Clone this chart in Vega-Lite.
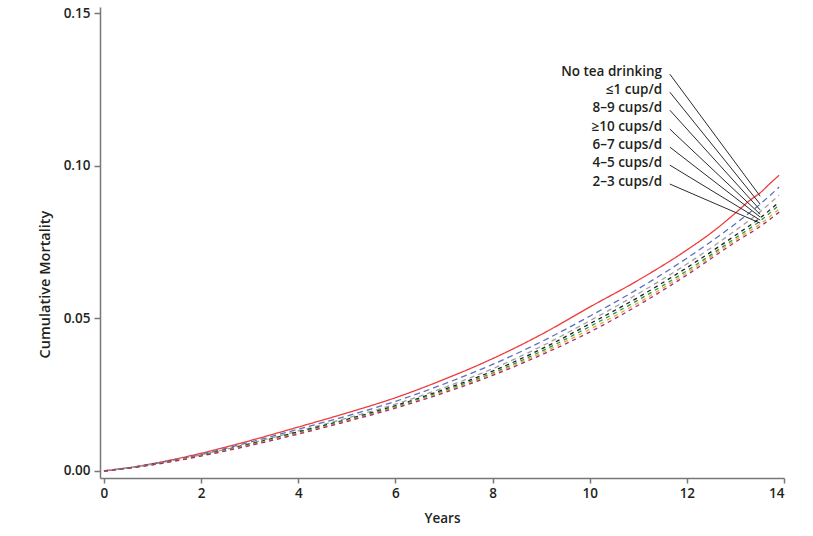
{
  "$schema": "https://vega.github.io/schema/vega-lite/v6.json",
  "width": 684,
  "height": 471,
  "autosize": "none",
  "padding": {"left": 100, "top": 7, "right": 29, "bottom": 58},
  "background": "white",
  "config": {
    "view": {"stroke": null},
    "font": "Open Sans",
    "axis": {
      "grid": false,
      "domainColor": "#777777",
      "domainWidth": 1.5,
      "tickColor": "#777777",
      "tickWidth": 1.5,
      "labelFont": "Open Sans",
      "labelFontWeight": 600,
      "labelFontSize": 13.5,
      "labelColor": "#231f20",
      "titleFont": "Open Sans",
      "titleFontWeight": 600,
      "titleFontSize": 13.5,
      "titleColor": "#231f20"
    }
  },
  "datasets": {
    "curves": [
      {"s": "No tea drinking", "t": 0, "v": 0},
      {"s": "No tea drinking", "t": 0.5, "v": 0.0010},
      {"s": "No tea drinking", "t": 1, "v": 0.0024},
      {"s": "No tea drinking", "t": 1.5, "v": 0.0040},
      {"s": "No tea drinking", "t": 2, "v": 0.0058},
      {"s": "No tea drinking", "t": 3, "v": 0.0099},
      {"s": "No tea drinking", "t": 4, "v": 0.0144},
      {"s": "No tea drinking", "t": 5, "v": 0.0190},
      {"s": "No tea drinking", "t": 6, "v": 0.0240},
      {"s": "No tea drinking", "t": 7, "v": 0.0300},
      {"s": "No tea drinking", "t": 8, "v": 0.0368},
      {"s": "No tea drinking", "t": 9, "v": 0.0447},
      {"s": "No tea drinking", "t": 10, "v": 0.0537},
      {"s": "No tea drinking", "t": 11, "v": 0.0625},
      {"s": "No tea drinking", "t": 12, "v": 0.0724},
      {"s": "No tea drinking", "t": 12.5, "v": 0.0780},
      {"s": "No tea drinking", "t": 13, "v": 0.0845},
      {"s": "No tea drinking", "t": 13.3, "v": 0.0887},
      {"s": "No tea drinking", "t": 13.5, "v": 0.0910},
      {"s": "No tea drinking", "t": 13.7, "v": 0.0940},
      {"s": "No tea drinking", "t": 13.9, "v": 0.0969},

      {"s": "≤1 cup/d", "t": 0, "v": 0},
      {"s": "≤1 cup/d", "t": 1, "v": 0.0023},
      {"s": "≤1 cup/d", "t": 2, "v": 0.0055},
      {"s": "≤1 cup/d", "t": 3, "v": 0.0094},
      {"s": "≤1 cup/d", "t": 4, "v": 0.0137},
      {"s": "≤1 cup/d", "t": 5, "v": 0.0180},
      {"s": "≤1 cup/d", "t": 6, "v": 0.0228},
      {"s": "≤1 cup/d", "t": 7, "v": 0.0285},
      {"s": "≤1 cup/d", "t": 8, "v": 0.0349},
      {"s": "≤1 cup/d", "t": 9, "v": 0.0423},
      {"s": "≤1 cup/d", "t": 10, "v": 0.0507},
      {"s": "≤1 cup/d", "t": 11, "v": 0.0597},
      {"s": "≤1 cup/d", "t": 12, "v": 0.0697},
      {"s": "≤1 cup/d", "t": 13, "v": 0.0810},
      {"s": "≤1 cup/d", "t": 13.5, "v": 0.0873},
      {"s": "≤1 cup/d", "t": 13.9, "v": 0.0930},

      {"s": "8–9 cups/d", "t": 0, "v": 0},
      {"s": "8–9 cups/d", "t": 1, "v": 0.0022},
      {"s": "8–9 cups/d", "t": 2, "v": 0.0053},
      {"s": "8–9 cups/d", "t": 3, "v": 0.0090},
      {"s": "8–9 cups/d", "t": 4, "v": 0.0131},
      {"s": "8–9 cups/d", "t": 5, "v": 0.0173},
      {"s": "8–9 cups/d", "t": 6, "v": 0.0219},
      {"s": "8–9 cups/d", "t": 7, "v": 0.0273},
      {"s": "8–9 cups/d", "t": 8, "v": 0.0335},
      {"s": "8–9 cups/d", "t": 9, "v": 0.0408},
      {"s": "8–9 cups/d", "t": 10, "v": 0.0492},
      {"s": "8–9 cups/d", "t": 11, "v": 0.0581},
      {"s": "8–9 cups/d", "t": 12, "v": 0.0678},
      {"s": "8–9 cups/d", "t": 13, "v": 0.0788},
      {"s": "8–9 cups/d", "t": 13.5, "v": 0.0848},
      {"s": "8–9 cups/d", "t": 13.9, "v": 0.0904},

      {"s": "≥10 cups/d", "t": 0, "v": 0},
      {"s": "≥10 cups/d", "t": 1, "v": 0.0022},
      {"s": "≥10 cups/d", "t": 2, "v": 0.0052},
      {"s": "≥10 cups/d", "t": 3, "v": 0.0088},
      {"s": "≥10 cups/d", "t": 4, "v": 0.0128},
      {"s": "≥10 cups/d", "t": 5, "v": 0.0169},
      {"s": "≥10 cups/d", "t": 6, "v": 0.0214},
      {"s": "≥10 cups/d", "t": 7, "v": 0.0267},
      {"s": "≥10 cups/d", "t": 8, "v": 0.0327},
      {"s": "≥10 cups/d", "t": 9, "v": 0.0399},
      {"s": "≥10 cups/d", "t": 10, "v": 0.0482},
      {"s": "≥10 cups/d", "t": 11, "v": 0.0569},
      {"s": "≥10 cups/d", "t": 12, "v": 0.0666},
      {"s": "≥10 cups/d", "t": 13, "v": 0.0772},
      {"s": "≥10 cups/d", "t": 13.5, "v": 0.0828},
      {"s": "≥10 cups/d", "t": 13.9, "v": 0.0881},

      {"s": "6–7 cups/d", "t": 0, "v": 0},
      {"s": "6–7 cups/d", "t": 1, "v": 0.0021},
      {"s": "6–7 cups/d", "t": 2, "v": 0.0051},
      {"s": "6–7 cups/d", "t": 3, "v": 0.0086},
      {"s": "6–7 cups/d", "t": 4, "v": 0.0125},
      {"s": "6–7 cups/d", "t": 5, "v": 0.0166},
      {"s": "6–7 cups/d", "t": 6, "v": 0.0211},
      {"s": "6–7 cups/d", "t": 7, "v": 0.0263},
      {"s": "6–7 cups/d", "t": 8, "v": 0.0321},
      {"s": "6–7 cups/d", "t": 9, "v": 0.0392},
      {"s": "6–7 cups/d", "t": 10, "v": 0.0473},
      {"s": "6–7 cups/d", "t": 11, "v": 0.0560},
      {"s": "6–7 cups/d", "t": 12, "v": 0.0656},
      {"s": "6–7 cups/d", "t": 13, "v": 0.0763},
      {"s": "6–7 cups/d", "t": 13.5, "v": 0.0818},
      {"s": "6–7 cups/d", "t": 13.9, "v": 0.0871},

      {"s": "4–5 cups/d", "t": 0, "v": 0},
      {"s": "4–5 cups/d", "t": 1, "v": 0.0021},
      {"s": "4–5 cups/d", "t": 2, "v": 0.0050},
      {"s": "4–5 cups/d", "t": 3, "v": 0.0085},
      {"s": "4–5 cups/d", "t": 4, "v": 0.0123},
      {"s": "4–5 cups/d", "t": 5, "v": 0.0164},
      {"s": "4–5 cups/d", "t": 6, "v": 0.0208},
      {"s": "4–5 cups/d", "t": 7, "v": 0.0259},
      {"s": "4–5 cups/d", "t": 8, "v": 0.0317},
      {"s": "4–5 cups/d", "t": 9, "v": 0.0386},
      {"s": "4–5 cups/d", "t": 10, "v": 0.0464},
      {"s": "4–5 cups/d", "t": 11, "v": 0.0551},
      {"s": "4–5 cups/d", "t": 12, "v": 0.0649},
      {"s": "4–5 cups/d", "t": 13, "v": 0.0757},
      {"s": "4–5 cups/d", "t": 13.5, "v": 0.0808},
      {"s": "4–5 cups/d", "t": 13.9, "v": 0.0858},

      {"s": "2–3 cups/d", "t": 0, "v": 0},
      {"s": "2–3 cups/d", "t": 1, "v": 0.0020},
      {"s": "2–3 cups/d", "t": 2, "v": 0.0049},
      {"s": "2–3 cups/d", "t": 3, "v": 0.0083},
      {"s": "2–3 cups/d", "t": 4, "v": 0.0121},
      {"s": "2–3 cups/d", "t": 5, "v": 0.0162},
      {"s": "2–3 cups/d", "t": 6, "v": 0.0206},
      {"s": "2–3 cups/d", "t": 7, "v": 0.0256},
      {"s": "2–3 cups/d", "t": 8, "v": 0.0313},
      {"s": "2–3 cups/d", "t": 9, "v": 0.0380},
      {"s": "2–3 cups/d", "t": 10, "v": 0.0455},
      {"s": "2–3 cups/d", "t": 11, "v": 0.0543},
      {"s": "2–3 cups/d", "t": 12, "v": 0.0642},
      {"s": "2–3 cups/d", "t": 13, "v": 0.0750},
      {"s": "2–3 cups/d", "t": 13.5, "v": 0.0800},
      {"s": "2–3 cups/d", "t": 13.9, "v": 0.0848}
    ],
    "labels": [
      {"s": "No tea drinking", "lx": 11.49, "ly": 0.1306, "sx": 11.65, "sy": 0.1300, "ex": 13.51, "ey": 0.0900},
      {"s": "≤1 cup/d", "lx": 11.49, "ly": 0.1247, "sx": 11.65, "sy": 0.1241, "ex": 13.51, "ey": 0.0874},
      {"s": "8–9 cups/d", "lx": 11.49, "ly": 0.1188, "sx": 11.65, "sy": 0.1182, "ex": 13.51, "ey": 0.0855},
      {"s": "≥10 cups/d", "lx": 11.49, "ly": 0.1126, "sx": 11.65, "sy": 0.1120, "ex": 13.51, "ey": 0.0841},
      {"s": "6–7 cups/d", "lx": 11.49, "ly": 0.1067, "sx": 11.65, "sy": 0.1061, "ex": 13.51, "ey": 0.0832},
      {"s": "4–5 cups/d", "lx": 11.49, "ly": 0.1008, "sx": 11.65, "sy": 0.1002, "ex": 13.51, "ey": 0.0822},
      {"s": "2–3 cups/d", "lx": 11.49, "ly": 0.0946, "sx": 11.65, "sy": 0.0940, "ex": 13.51, "ey": 0.0812}
    ]
  },
  "layer": [
    {
      "data": {"name": "curves"},
      "mark": {"type": "line", "strokeWidth": 1.3, "interpolate": "monotone"},
      "encoding": {
        "x": {
          "field": "t", "type": "quantitative",
          "scale": {"domain": [-0.082, 14], "nice": false, "zero": false},
          "axis": {"values": [0, 2, 4, 6, 8, 10, 12, 14], "title": "Years", "tickSize": 5, "labelPadding": 3, "titleY": 40, "titleBaseline": "middle"}
        },
        "y": {
          "field": "v", "type": "quantitative",
          "scale": {"domain": [-0.0023, 0.152], "nice": false, "zero": false},
          "axis": {"values": [0, 0.05, 0.1, 0.15], "format": ".2f", "title": "Cumulative Mortality", "titleFontSize": 14.5, "tickSize": 6, "labelPadding": 4, "titleX": -55, "titleY": 277, "titleAngle": -90, "titleAlign": "center", "titleBaseline": "middle"}
        },
        "color": {
          "field": "s", "type": "nominal", "legend": null,
          "scale": {
            "domain": ["2–3 cups/d", "4–5 cups/d", "6–7 cups/d", "≥10 cups/d", "8–9 cups/d", "≤1 cup/d", "No tea drinking"],
            "range": ["#a3297a", "#f2a81d", "#1a9a4a", "#231f20", "#a0a0a0", "#5a6fbf", "#ee3b3b"]
          }
        },
        "strokeDash": {
          "field": "s", "type": "nominal", "legend": null,
          "scale": {
            "domain": ["2–3 cups/d", "4–5 cups/d", "6–7 cups/d", "≥10 cups/d", "8–9 cups/d", "≤1 cup/d", "No tea drinking"],
            "range": [[4, 4], [4, 4], [4, 4], [4, 4], [5, 4], [6, 4], [1, 0]]
          }
        }
      }
    },
    {
      "data": {"name": "labels"},
      "mark": {"type": "rule", "color": "#2b2b2b", "strokeWidth": 1},
      "encoding": {
        "x": {"field": "sx", "type": "quantitative"},
        "y": {"field": "sy", "type": "quantitative"},
        "x2": {"field": "ex"},
        "y2": {"field": "ey"}
      }
    },
    {
      "data": {"name": "labels"},
      "mark": {"type": "text", "align": "right", "baseline": "middle", "font": "Open Sans", "fontWeight": 600, "fontSize": 13.5, "color": "#231f20"},
      "encoding": {
        "x": {"field": "lx", "type": "quantitative"},
        "y": {"field": "ly", "type": "quantitative"},
        "text": {"field": "s"}
      }
    }
  ]
}
